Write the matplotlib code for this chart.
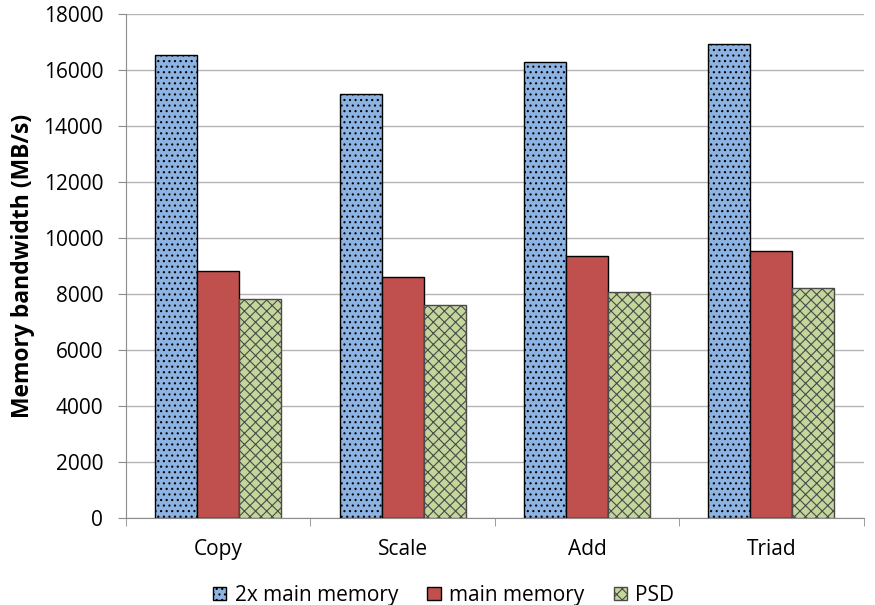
import matplotlib
matplotlib.use("Agg")
import numpy as np
import matplotlib.pyplot as plt
from matplotlib.ticker import FixedLocator

plt.rcParams["font.family"] = ["Open Sans", "DejaVu Sans"]
plt.rcParams["hatch.linewidth"] = 0.8

# data
categories = ["Copy", "Scale", "Add", "Triad"]
series = ["2x main memory", "main memory", "PSD"]
double_mem = [16550, 15150, 16300, 16930]
main_mem = [8830, 8620, 9350, 9530]
psd = [7830, 7610, 8060, 8200]
yticks = list(range(0, 18001, 2000))

fig = plt.figure(figsize=(8.75, 6.05), dpi=100)
ax = fig.add_axes([0.144, 0.144, 0.843, 0.833])

x = np.arange(len(categories))
w = 0.228
styles = [
    dict(color="#8DB3E2", edgecolor="black", hatch="..."),
    dict(color="#C0504D", edgecolor="black", hatch=None),
    dict(color="#C3D69B", edgecolor="#4a4a4a", hatch="xxx"),
]
for i, (vals, name, st) in enumerate(zip([double_mem, main_mem, psd], series, styles)):
    ax.bar(x + (i - 1) * w, vals, w, facecolor=st["color"],
           edgecolor=st["edgecolor"], hatch=st["hatch"],
           linewidth=1.0, label=name, zorder=3)

ax.set_xlim(-0.5, len(categories) - 0.5)
ax.set_ylim(0, 18000)
ax.set_yticks(yticks)
ax.set_yticklabels([str(t) for t in yticks], fontsize=15)
ax.yaxis.grid(True, color="#b4b4b4", linewidth=1.0, zorder=0)
ax.set_axisbelow(True)

ax.set_xticks(x)
ax.set_xticklabels(categories, fontsize=15)
ax.xaxis.set_minor_locator(FixedLocator(np.arange(-0.5, len(categories), 1.0)))
ax.tick_params(axis="x", which="major", length=0, pad=15.5)
ax.tick_params(axis="x", which="minor", length=5.5, color="#8c8c8c", direction="out")
ax.tick_params(axis="y", length=5.5, color="#8c8c8c", direction="out", pad=11)

for s in ["top", "right"]:
    ax.spines[s].set_visible(False)
for s in ["left", "bottom"]:
    ax.spines[s].set_color("#8c8c8c")

ax.set_ylabel("Memory bandwidth (MB/s)", fontsize=16.5, fontweight="bold", labelpad=6)

handles, labels = ax.get_legend_handles_labels()
fig.legend(handles, labels, loc="center", bbox_to_anchor=(0.507, 0.016), ncol=3,
           frameon=False, fontsize=15, handlelength=0.65, handleheight=0.65,
           handletextpad=0.4, columnspacing=1.4, borderpad=0.2)

fig.savefig("out.png", dpi=100)
